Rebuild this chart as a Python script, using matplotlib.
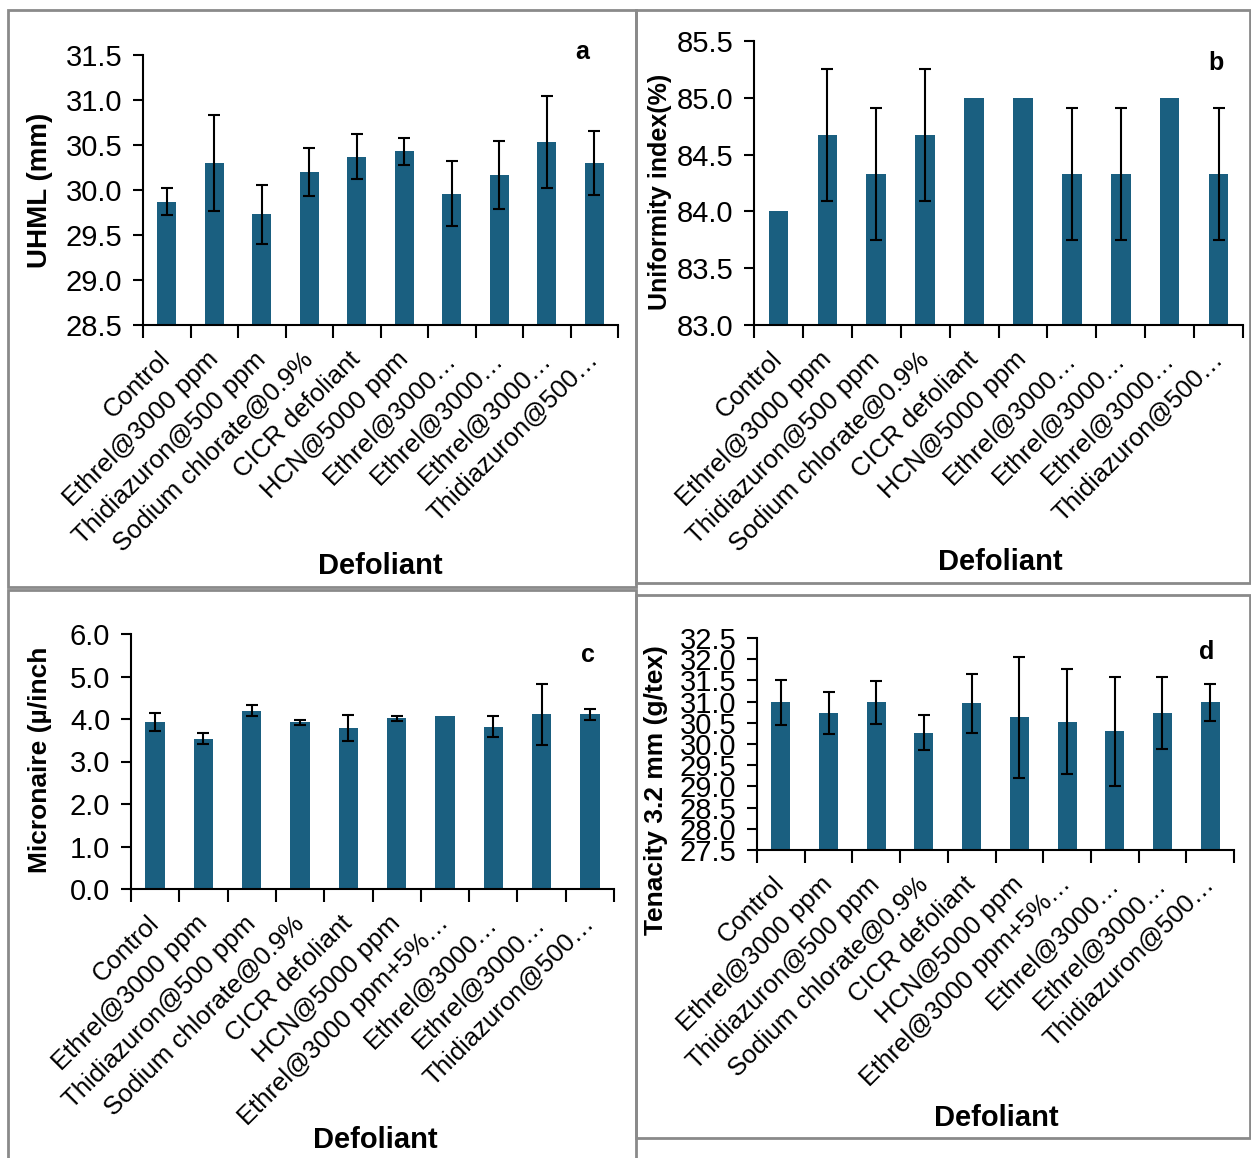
import numpy as np
import matplotlib
matplotlib.use("Agg")
import matplotlib.pyplot as plt
import matplotlib.transforms as mtransforms
from matplotlib.patches import Rectangle

plt.rcParams['font.family'] = ['Liberation Sans', 'DejaVu Sans']

# data
labels_ab = ['Control', 'Ethrel@3000 ppm', 'Thidiazuron@500 ppm', 'Sodium chlorate@0.9%',
             'CICR defoliant', 'HCN@5000 ppm', 'Ethrel@3000…', 'Ethrel@3000…',
             'Ethrel@3000…', 'Thidiazuron@500…']
labels_cd = ['Control', 'Ethrel@3000 ppm', 'Thidiazuron@500 ppm', 'Sodium chlorate@0.9%',
             'CICR defoliant', 'HCN@5000 ppm', 'Ethrel@3000 ppm+5%…', 'Ethrel@3000…',
             'Ethrel@3000…', 'Thidiazuron@500…']

uhml = [29.87, 30.30, 29.73, 30.20, 30.37, 30.43, 29.96, 30.17, 30.53, 30.30]
uhml_err = [0.15, 0.53, 0.33, 0.27, 0.25, 0.15, 0.36, 0.38, 0.51, 0.36]

ui = [84.0, 84.67, 84.33, 84.67, 85.0, 85.0, 84.33, 84.33, 85.0, 84.33]
ui_err = [0, 0.58, 0.58, 0.58, 0, 0, 0.58, 0.58, 0, 0.58]

mic = [3.92, 3.54, 4.20, 3.92, 3.79, 4.02, 4.07, 3.82, 4.11, 4.11]
mic_err = [0.21, 0.13, 0.13, 0.06, 0.30, 0.06, 0, 0.24, 0.71, 0.13]

ten = [30.98, 30.73, 30.98, 30.27, 30.96, 30.63, 30.53, 30.30, 30.73, 30.98]
ten_err = [0.53, 0.50, 0.51, 0.41, 0.69, 1.43, 1.24, 1.28, 0.84, 0.44]

W, H = 1251, 1158
bar_col = '#1a5f80'
fig = plt.figure(figsize=(W / 100, H / 100), dpi=100)

# panel frames (pixels)
for (x0, y0, x1, y1) in [(8, 10, 636, 587), (636, 10, 1250, 583),
                         (8, 590, 636, 1160), (636, 595, 1250, 1138)]:
    fig.patches.append(Rectangle((x0 / W, 1 - y1 / H), (x1 - x0) / W, (y1 - y0) / H,
                                 transform=fig.transFigure, fill=False,
                                 edgecolor='#8a8a8a', linewidth=2))


def panel(box, vals, errs, labels, ylim, step, ylabel, ylab_xy, ylab_size,
          letter, letter_xy, xlab_xy):
    l, r, t, b = box
    ax = fig.add_axes([l / W, 1 - b / H, (r - l) / W, (b - t) / H])
    x = np.arange(len(vals))
    ax.bar(x, vals, width=0.4, color=bar_col, zorder=2)
    e = np.array(errs)
    m = e > 0
    ax.errorbar(x[m], np.array(vals)[m], yerr=e[m], fmt='none', ecolor='black',
                elinewidth=1.5, capsize=4.5, capthick=1.5, zorder=3)
    ax.set_ylim(*ylim)
    ax.set_xlim(-0.5, len(vals) - 0.5)
    yt = np.arange(ylim[0], ylim[1] + step / 2, step)
    ax.set_yticks(yt)
    ax.set_yticklabels([f'{v:.1f}' for v in yt], fontsize=21)
    ax.set_xticks(np.arange(-0.5, len(vals), 1))
    ax.set_xticklabels([])
    ax.set_xticks(x, labels, minor=True, rotation=45, ha='right', va='center',
                  rotation_mode='anchor', fontsize=18.5)
    # nudge the slanted labels a little to the right
    shift = mtransforms.ScaledTranslation(0.07, 0, fig.dpi_scale_trans)
    for lab in ax.get_xticklabels(minor=True):
        lab.set_transform(lab.get_transform() + shift)
    ax.tick_params(axis='x', which='minor', length=0, pad=22)
    ax.tick_params(axis='x', which='major', length=9, width=1.5, direction='out')
    ax.tick_params(axis='y', length=7, width=1.5, direction='out', pad=8)
    for s in ['top', 'right']:
        ax.spines[s].set_visible(False)
    for s in ['left', 'bottom']:
        ax.spines[s].set_linewidth(1.5)
    fig.text(ylab_xy[0] / W, 1 - ylab_xy[1] / H, ylabel, rotation=90, ha='center',
             va='center', fontsize=ylab_size, fontweight='bold')
    fig.text(letter_xy[0] / W, 1 - letter_xy[1] / H, letter, ha='center', va='center',
             fontsize=18, fontweight='bold')
    fig.text(xlab_xy[0] / W, 1 - xlab_xy[1] / H, 'Defoliant', ha='center', va='center',
             fontsize=21, fontweight='bold')
    return ax


panel((143, 618, 55, 325), uhml, uhml_err, labels_ab, (28.5, 31.5), 0.5,
      'UHML (mm)', (40, 190), 20, 'a', (582, 52), (380, 566))
panel((754, 1243, 41, 325), ui, ui_err, labels_ab, (83.0, 85.5), 0.5,
      'Uniformity index(%)', (660, 192), 18, 'b', (1216, 63), (1000, 562))
panel((131, 614, 634, 889), mic, mic_err, labels_cd, (0.0, 6.0), 1.0,
      'Micronaire (µ/inch', (40, 760), 19, 'c', (588, 655), (375, 1140))
panel((757, 1234, 638, 850), ten, ten_err, labels_cd, (27.5, 32.5), 0.5,
      'Tenacity 3.2 mm (g/tex)', (656, 790), 19, 'd', (1207, 652), (996, 1118))

fig.savefig('out.png', dpi=100)
